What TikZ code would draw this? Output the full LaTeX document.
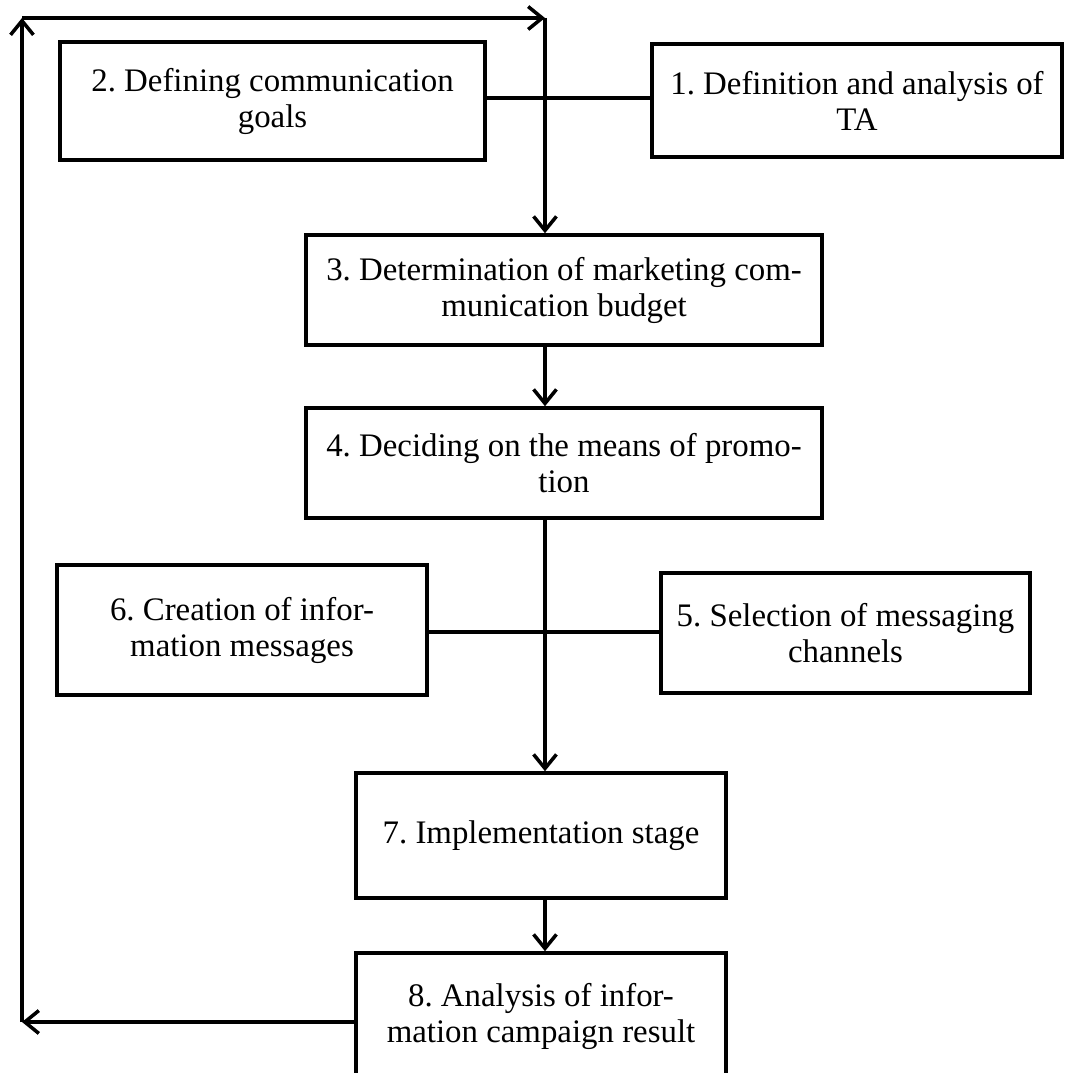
\documentclass[tikz,border=0pt]{standalone}
\usepackage{fontspec}
\setmainfont{Liberation Serif}
\usetikzlibrary{arrows.meta}

\tikzset{
    stage/.style={draw, line width=2pt, align=center, inner sep=2pt,
        font=\fontsize{18.7}{20.5}\selectfont\frenchspacing},
    link/.style={line width=2pt},
    arr/.style={line width=2pt, -{Straight Barb[length=8pt,width=13pt,line width=2pt]}}
}

\begin{document}
\begin{tikzpicture}

    \useasboundingbox (0,0) rectangle (21.36,-21.46); % Page frame
    \clip (0,0) rectangle (21.36,-21.46);

    \node[stage, minimum width=8.5cm, minimum height=2.36cm] (goals) at (5.45,-2.02) {2. Defining communication\\goals}; % Stage 2
    \node[stage, minimum width=8.2cm, minimum height=2.26cm] (ta) at (17.14,-2.01) {1. Definition and analysis of\\TA}; % Stage 1
    \node[stage, minimum width=10.32cm, minimum height=2.2cm] (budget) at (11.28,-5.8) {3. Determination of marketing com-\\munication budget}; % Stage 3
    \node[stage, minimum width=10.32cm, minimum height=2.2cm] (means) at (11.28,-9.26) {4. Deciding on the means of promo-\\tion}; % Stage 4
    \node[stage, minimum width=7.4cm, minimum height=2.6cm] (messages) at (4.84,-12.6) {6. Creation of infor-\\mation messages}; % Stage 6
    \node[stage, minimum width=7.38cm, minimum height=2.4cm] (channels) at (16.91,-12.66) {5. Selection of messaging\\channels}; % Stage 5
    \node[stage, minimum width=7.4cm, minimum height=2.5cm] (impl) at (10.82,-16.71) {7. Implementation stage}; % Stage 7
    \node[stage, minimum width=7.4cm, minimum height=2.52cm] (result) at (10.82,-20.32) {8. Analysis of infor-\\mation campaign result}; % Stage 8

    % Feedback loop corners
    \coordinate (topL) at (0.44,-0.36);
    \coordinate (topR) at (10.9,-0.36);
    \coordinate (botL) at (0.44,-20.44);
    \coordinate (junA) at (10.9,-1.96);
    \coordinate (junB) at (10.9,-12.64);

    % Upper branch
    \draw[link] (goals.east |- junA) -- (ta.west |- junA);
    \draw[arr] (topR) -- (topR |- budget.north);
    \draw[arr] (budget.south -| topR) -- (means.north -| topR);

    % Middle branch
    \draw[link] (messages.east |- junB) -- (channels.west |- junB);
    \draw[arr] (means.south -| topR) -- (impl.north -| topR);
    \draw[arr] (impl.south -| topR) -- (result.north -| topR);

    % Feedback
    \draw[arr] (result.west |- botL) -- (botL);
    \draw[arr] (botL) -- (topL);
    \draw[arr] (topL) -- (topR);

\end{tikzpicture}
\end{document}
